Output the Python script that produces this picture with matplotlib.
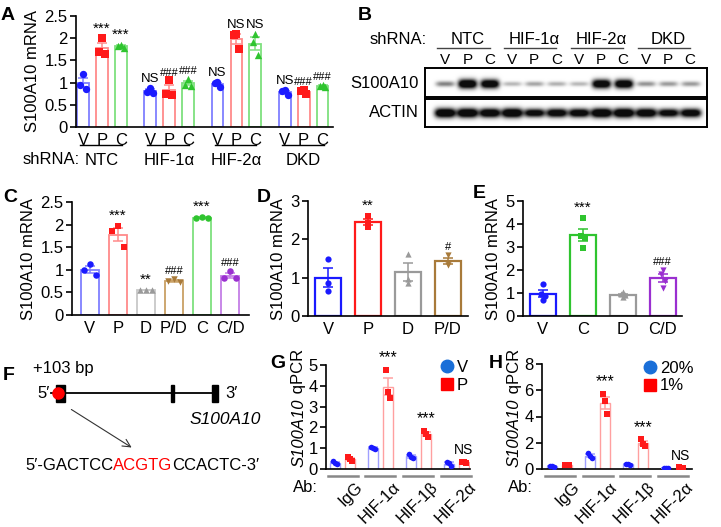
import numpy as np
import matplotlib
matplotlib.use("Agg")
import matplotlib.pyplot as plt
import matplotlib.transforms as mtransforms
from matplotlib.lines import Line2D

plt.rcParams['font.family'] = ['Liberation Sans', 'DejaVu Sans']

# ---- data ----
# A: qPCR, shRNA groups x (V, P, C)
a_groups = ['NTC', 'HIF-1α', 'HIF-2α', 'DKD']
a_conds = ['V', 'P', 'C']
a_ntc = [[1.2, 0.95, 0.85], [2.0, 1.7, 1.65], [1.85, 1.83, 1.78]]
a_hif1a = [[0.88, 0.78, 0.77], [1.05, 0.75, 0.72], [1.08, 0.95, 0.93]]
a_hif2a = [[1.02, 0.98, 0.9], [2.1, 2.08, 1.75], [2.1, 1.92, 1.62]]
a_dkd = [[0.83, 0.8, 0.72], [0.83, 0.8, 0.74], [0.95, 0.93, 0.9]]
a_sig = [['', '***', '***'], ['NS', '###', '###'], ['NS', 'NS', 'NS'], ['NS', '###', '###']]

# B: blot band intensities (12 lanes)
b_lanes = ['V', 'P', 'C'] * 4
b_s100 = [0.35, 1.0, 0.95, 0.2, 0.25, 0.22, 0.2, 0.95, 0.95, 0.3, 0.28, 0.28]
b_actin = [1.0, 1.0, 0.95, 1.0, 0.85, 0.9, 0.9, 1.0, 1.0, 0.95, 0.85, 0.9]

# C
c_labels = ['V', 'P', 'D', 'P/D', 'C', 'C/D']
c_points = [[1.13, 1.0, 0.88], [1.97, 1.85, 1.5], [0.56, 0.55, 0.55],
            [0.8, 0.76, 0.72], [2.17, 2.15, 2.14], [0.97, 0.82, 0.82]]
c_sig = ['', '***', '**', '###', '***', '###']

# D
d_labels = ['V', 'P', 'D', 'P/D']
d_points = [[1.48, 0.87, 0.65], [2.6, 2.42, 2.33], [1.63, 0.97, 0.85], [1.58, 1.38, 1.32]]
d_sig = ['', '**', '', '#']

# E
e_labels = ['V', 'C', 'D', 'C/D']
e_points = [[1.38, 0.95, 0.88, 0.68], [4.25, 3.48, 3.4, 2.95],
            [1.05, 0.95, 0.9, 0.82], [2.0, 1.82, 1.52, 1.22]]
e_sig = ['', '***', '', '###']

# G / H: ChIP qPCR
ab_labels = ['IgG', 'HIF-1α', 'HIF-1β', 'HIF-2α']
g_v = [[0.37, 0.3, 0.25], [1.08, 1.0, 0.95], [0.72, 0.58, 0.52], [0.35, 0.28, 0.15]]
g_p = [[0.6, 0.48, 0.38], [4.75, 3.7, 3.4], [1.85, 1.68, 1.52], [0.36, 0.33, 0.3]]
g_sig = ['', '***', '***', 'NS']
h_v = [[0.25, 0.22, 0.18], [1.2, 1.0, 0.85], [0.38, 0.35, 0.33], [0.08, 0.07, 0.06]]
h_p = [[0.33, 0.3, 0.27], [5.75, 5.2, 4.2], [2.25, 1.9, 1.75], [0.12, 0.1, 0.08]]
h_sig = ['', '***', '***', 'NS']

# colours
BLUE, BLUE_L = '#1a1aff', '#7f7fff'
RED, RED_L = '#ff1a1a', '#ff8a8a'
GREEN, GREEN_L = '#2fc42f', '#7ee07e'
GRAY, GRAY_L = '#9a9a9a', '#c8c8c8'
BROWN, BROWN_L = '#a87a3a', '#c9a064'
PURPLE, PURPLE_L = '#9a2fd0', '#c47ee6'

FS = 12
SIG_FS = {'***': 11, '**': 11, 'NS': 9.5, '###': 8, '#': 8}

W, H = 721, 527
fig = plt.figure(figsize=(W / 100, H / 100), dpi=100)


def px_axes(x0, y0, x1, y1):
    return fig.add_axes([x0 / W, 1 - y1 / H, (x1 - x0) / W, (y1 - y0) / H])


def ftxt(x, y, s, **kw):
    return fig.text(x / W, 1 - y / H, s, **kw)


def style(ax):
    for s in ['top', 'right']:
        ax.spines[s].set_visible(False)
    ax.spines['left'].set_linewidth(1.2)
    ax.spines['bottom'].set_linewidth(1.2)
    ax.tick_params(axis='y', length=4, width=1.2, labelsize=FS, pad=2)
    ax.tick_params(axis='x', length=0, labelsize=FS, pad=4)


def draw_bar(ax, x, pts, ec, mc, mk, bw, ms, offs, lw=1.3, sig='', pad=0.1, sfs=None):
    pts = np.array(pts)
    m = pts.mean()
    e = pts.std(ddof=1) / np.sqrt(len(pts))
    ax.bar(x, m, bw, color='white', edgecolor=ec, linewidth=lw, zorder=1)
    ax.errorbar(x, m, yerr=e, color=ec, capsize=3.5, capthick=1.1, elinewidth=1.1, zorder=3)
    ax.scatter(x + np.array(offs[:len(pts)]), pts, marker=mk, color=mc, s=ms, zorder=4, linewidths=0)
    if sig:
        ax.text(x, max(pts.max(), m + e) + pad, sig, ha='center', va='bottom',
                fontsize=sfs if sfs else SIG_FS[sig])


# ---- panel letters ----
for lt, x, y in [('A', 8, 16), ('B', 365, 15), ('C', 10, 197), ('D', 264, 197), ('E', 479, 193),
                 ('F', 9, 376), ('G', 278, 363), ('H', 496, 364)]:
    ftxt(x, y, lt, fontsize=14, fontweight='bold', ha='center', va='center')

# ---- A ----
axA = px_axes(76, 16, 333, 127)
style(axA)
gap = 3.55
a_data = [a_ntc, a_hif1a, a_hif2a, a_dkd]
cols = [(BLUE_L, BLUE, 'o'), (RED_L, RED, 's'), (GREEN_L, GREEN, '^')]
offs3 = [0.0, -0.15, 0.15]
xt = []
for g, grp in enumerate(a_data):
    for i, pts in enumerate(grp):
        x = g * gap + i
        xt.append(x)
        ec, mc, mk = cols[i]
        draw_bar(axA, x, pts, ec, mc, mk, 0.62, 28, offs3, sig=a_sig[g][i], pad=0.06)
axA.set_xlim(-0.37, 13.2)
axA.set_ylim(0, 2.5)
axA.set_yticks([0, 0.5, 1, 1.5, 2, 2.5])
axA.set_yticklabels(['0', '0.5', '1', '1.5', '2', '2.5'])
axA.set_xticks(xt)
axA.set_xticklabels(a_conds * 4)
axA.set_ylabel('S100A10 mRNA', fontsize=FS, labelpad=3)
trA = mtransforms.blended_transform_factory(axA.transData, axA.transAxes)
for g, name in enumerate(a_groups):
    c = g * gap + 1
    axA.plot([c - 1.15, c + 1.05], [-0.162, -0.162], transform=trA, clip_on=False, color='k', lw=1)
    axA.text(c, -0.30, name, transform=trA, ha='center', va='center', fontsize=FS)
ftxt(51, 160, 'shRNA:', ha='center', va='center', fontsize=FS)

# ---- B: western blot ----
bx0, bx1 = -0.9, 11.76
xs = np.linspace(bx0, bx1, 700)
ys = np.linspace(0, 1, 90)
X, Y = np.meshgrid(xs, ys)


def blot(ax, inten, yc, hw, h0, h1):
    img = np.zeros_like(X)
    for i, v in enumerate(inten):
        hh = h0 + h1 * v
        img += v * np.exp(-np.abs((X - i) / hw) ** 4) * np.exp(-((Y - yc) / hh) ** 2)
    ax.imshow(np.clip(img * 1.5, 0, 1), extent=(bx0, bx1, 1, 0), aspect='auto',
              cmap='gray_r', vmin=0, vmax=1.05, interpolation='bilinear')
    ax.set_xticks([])
    ax.set_yticks([])
    for s in ax.spines.values():
        s.set_linewidth(1.4)


axB1 = px_axes(425, 68, 707, 97)
blot(axB1, b_s100, 0.55, 0.42, 0.06, 0.1)
axB2 = px_axes(425, 99, 707, 127)
blot(axB2, b_actin, 0.5, 0.47, 0.05, 0.12)
ftxt(419, 84, 'S100A10', ha='right', va='center', fontsize=FS)
ftxt(419, 113, 'ACTIN', ha='right', va='center', fontsize=FS)
ftxt(398, 40, 'shRNA:', ha='center', va='center', fontsize=FS)
trB = mtransforms.blended_transform_factory(axB1.transData, fig.transFigure)
for i, lab in enumerate(b_lanes):
    axB1.text(i, 1 - 60 / H, lab, transform=trB, ha='center', va='center', fontsize=11)
for g, name in enumerate(a_groups):
    c = g * 3 + 1
    axB1.text(c, 1 - 40 / H, name, transform=trB, ha='center', va='center', fontsize=FS)
    axB1.plot([c - 1.35, c + 1.0], [1 - 48 / H, 1 - 48 / H], transform=trB, clip_on=False,
              color='#444444', lw=1)

# ---- C ----
axC = px_axes(72, 202, 249, 315)
style(axC)
c_cols = [(BLUE_L, BLUE, 'o'), (RED_L, RED, 's'), (GRAY_L, GRAY, '^'),
          (BROWN_L, BROWN, 'v'), (GREEN_L, GREEN, 'o'), (PURPLE_L, PURPLE, 'o')]
offsC = [0.0, -0.2, 0.2]
for i, pts in enumerate(c_points):
    ec, mc, mk = c_cols[i]
    draw_bar(axC, i, pts, ec, mc, mk, 0.66, 22, offsC, sig=c_sig[i], pad=0.06)
axC.set_xlim(-0.64, 5.68)
axC.set_ylim(0, 2.5)
axC.set_yticks([0, 0.5, 1, 1.5, 2, 2.5])
axC.set_yticklabels(['0', '0.5', '1', '1.5', '2', '2.5'])
axC.set_xticks(range(len(c_labels)))
axC.set_xticklabels(c_labels)
axC.set_ylabel('S100A10 mRNA', fontsize=FS, labelpad=3)

# ---- D ----
axD = px_axes(308, 201, 468, 316)
style(axD)
d_cols = [(BLUE, BLUE, 'o'), (RED, RED, 's'), (GRAY, GRAY, '^'), (BROWN, BROWN, 'v')]
offsD = [0.0, 0.0, 0.0]
for i, pts in enumerate(d_points):
    ec, mc, mk = d_cols[i]
    draw_bar(axD, i, pts, ec, mc, mk, 0.66, 20, offsD, lw=1.6, sig=d_sig[i], pad=0.08)
axD.set_xlim(-0.5, 3.5)
axD.set_ylim(0, 3)
axD.set_yticks([0, 1, 2, 3])
axD.set_xticks(range(4))
axD.set_xticklabels(d_labels)
axD.set_ylabel('S100A10 mRNA', fontsize=FS, labelpad=3)

# ---- E ----
axE = px_axes(523, 201, 682, 316)
style(axE)
e_cols = [(BLUE, BLUE, 'o'), (GREEN, GREEN, 's'), (GRAY, GRAY, '^'), (PURPLE, PURPLE, 'v')]
offsE = [0.0, -0.05, 0.05, 0.0]
for i, pts in enumerate(e_points):
    ec, mc, mk = e_cols[i]
    draw_bar(axE, i, pts, ec, mc, mk, 0.66, 20, offsE, lw=1.6, sig=e_sig[i], pad=0.15)
axE.set_xlim(-0.5, 3.48)
axE.set_ylim(0, 5)
axE.set_yticks([0, 1, 2, 3, 4, 5])
axE.set_xticks(range(4))
axE.set_xticklabels(e_labels)
axE.set_ylabel('S100A10 mRNA', fontsize=FS, labelpad=3)

# ---- F: gene diagram ----
axF = px_axes(0, 355, 260, 490)
axF.set_xlim(0, 260)
axF.set_ylim(490, 355)
axF.axis('off')
exon_x = [(56, 65), (171, 174), (212, 218)]
gene_y = 393
axF.plot([51, 218], [gene_y, gene_y], color='k', lw=1.3)
for x0, x1 in exon_x:
    axF.add_patch(plt.Rectangle((x0, gene_y - 8.5), x1 - x0, 17, color='k'))
axF.plot([58], [gene_y], 'o', color='#ff0000', ms=8, zorder=5)
axF.text(44, gene_y, '5′', ha='center', va='center', fontsize=FS)
axF.text(232, gene_y, '3′', ha='center', va='center', fontsize=FS)
axF.text(33, 369, '+103 bp', ha='left', va='center', fontsize=FS)
axF.text(190, 420, 'S100A10', ha='left', va='center', fontsize=12.5, style='italic')
axF.annotate('', xy=(134, 449), xytext=(69, 408),
             arrowprops=dict(arrowstyle='->', color='#333333', lw=0.8, mutation_scale=14))
t1 = axF.text(25, 465, '5′-GACTCC', ha='left', va='center', fontsize=FS)
t2 = axF.annotate('ACGTG', xy=(1, 0), xycoords=t1, ha='left', va='bottom', fontsize=FS, color='#ff0000')
axF.annotate('CCACTC-3′', xy=(1, 0), xycoords=t2, ha='left', va='bottom', fontsize=FS)


# ---- G / H ----
def chip_panel(ax, vdat, pdat, sig, ymax, yticks, leg_labels, leg_xy, ylab_x, gap=2.53):
    style(ax)
    for g in range(4):
        x = g * gap
        draw_bar(ax, x, vdat[g], '#a0a0ff', BLUE, 'o', 0.62, 16, [-0.15, 0.0, 0.15], lw=1.0)
        draw_bar(ax, x + 1, pdat[g], '#ffa0a0', RED, 's', 0.62, 14, [-0.15, 0.0, 0.15], lw=1.0,
                 sig=sig[g], pad=0.045 * ymax, sfs=11.5 if sig[g] == '***' else 10)
    ax.set_ylim(0, ymax)
    ax.set_yticks(yticks)
    ax.set_xticks([])
    # y label: italic gene name + upright "qPCR"
    yl = ftxt(ylab_x, 467, 'S100A10', rotation=90, ha='center', va='bottom', fontsize=FS, style='italic')
    ax.annotate(' qPCR', xy=(0.5, 1), xycoords=yl, rotation=90, ha='center', va='bottom',
                fontsize=FS, annotation_clip=False)
    tr = mtransforms.blended_transform_factory(ax.transData, ax.transAxes)
    for g, name in enumerate(ab_labels):
        c = g * gap + 0.5
        ax.plot([c - 1.0, c + 1.0], [-0.065, -0.065], transform=tr, clip_on=False, color='#888888', lw=1.8)
        ax.text(c + 0.8, -0.10, name, transform=tr, ha='right', va='top', rotation=45,
                rotation_mode='anchor', fontsize=FS)
    hl = [Line2D([], [], marker='o', ls='', color='#1a6fd8', ms=9),
          Line2D([], [], marker='s', ls='', color='#ff0000', ms=9)]
    ax.legend(hl, leg_labels, loc='upper left', bbox_to_anchor=(leg_xy[0] / W, 1 - leg_xy[1] / H),
              bbox_transform=fig.transFigure, frameon=False, fontsize=FS, handlelength=0.8,
              handletextpad=0.2, borderpad=0, borderaxespad=0, labelspacing=0.15)


axG = px_axes(326, 365, 470, 469)
chip_panel(axG, g_v, g_p, g_sig, 5, [0, 1, 2, 3, 4, 5], ['V', 'P'], (440, 360), 299)
axG.set_xlim(-0.6, 9.0)
ftxt(305, 488, 'Ab:', ha='center', va='center', fontsize=FS)

axH = px_axes(542, 364, 692, 469)
chip_panel(axH, h_v, h_p, h_sig, 8, [0, 2, 4, 6, 8], ['20%', '1%'], (643, 361), 514)
axH.set_xlim(-0.67, 9.33)
ftxt(520, 488, 'Ab:', ha='center', va='center', fontsize=FS)

fig.savefig('out.png', dpi=100)
